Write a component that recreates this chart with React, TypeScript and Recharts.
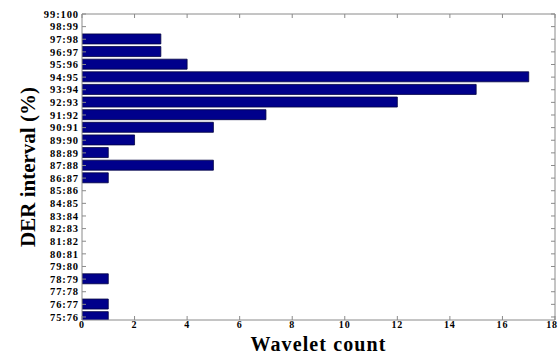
import React from 'react';
import { BarChart, Bar, XAxis, YAxis, Label } from 'recharts';

const intervals = [
  '75:76', '76:77', '77:78', '78:79', '79:80', '80:81', '81:82', '82:83', '83:84',
  '84:85', '85:86', '86:87', '87:88', '88:89', '89:90', '90:91', '91:92', '92:93',
  '93:94', '94:95', '95:96', '96:97', '97:98', '98:99', '99:100',
];
const counts = [1, 1, 0, 1, 0, 0, 0, 0, 0, 0, 0, 1, 5, 1, 2, 5, 7, 12, 15, 17, 4, 3, 3, 0, 0];
const xTicks = [0, 2, 4, 6, 8, 10, 12, 14, 16, 18];

const data = intervals.map((label, i) => ({ idx: i, label, count: counts[i] }));
const yTicks = intervals.map((_, i) => i);

const font = '"Liberation Serif", "Times New Roman", serif';
const tickStyle = { fill: '#000', fontSize: 10.5, fontWeight: 700, fontFamily: font, letterSpacing: 0.9 };
const xTickStyle = { ...tickStyle, fontSize: 10 };
const axisColor = '#8a8a8a';

const App: React.FC = () => {
  return (
    <div style={{ position: 'absolute', left: 0, top: 0, width: 558, height: 354, background: '#fff' }}>
      <BarChart
        width={558}
        height={354}
        data={data}
        layout="vertical"
        margin={{ top: 13, right: 2, left: 22, bottom: 0 }}
      >
        <XAxis
          type="number"
          domain={[0, 18]}
          ticks={xTicks}
          allowDataOverflow
          height={34}
          tickSize={-4}
          tickMargin={5}
          stroke={axisColor}
          tick={xTickStyle}
        >
          <Label
            value="Wavelet count"
            position="insideBottom"
            offset={3}
            style={{ fill: '#000', fontSize: 20, fontWeight: 700, fontFamily: font, letterSpacing: 1.1 }}
          />
        </XAxis>
        <XAxis
          xAxisId="top"
          orientation="top"
          type="number"
          domain={[0, 18]}
          ticks={xTicks}
          allowDataOverflow
          height={1}
          tickSize={-4}
          stroke={axisColor}
          tickFormatter={() => ''}
        />
        <YAxis
          type="number"
          dataKey="idx"
          domain={[-0.24, 24]}
          ticks={yTicks}
          allowDataOverflow
          reversed
          interval={0}
          width={60}
          tickSize={-4}
          tickMargin={7}
          stroke={axisColor}
          tick={tickStyle}
          tickFormatter={(v: number) => intervals[v] ?? ''}
        >
          <Label
            value="DER interval (%)"
            angle={-90}
            position="insideLeft"
            offset={6}
            style={{ fill: '#000', fontSize: 21, fontWeight: 700, fontFamily: font, textAnchor: 'middle' }}
          />
        </YAxis>
        <YAxis
          yAxisId="right"
          orientation="right"
          type="number"
          dataKey="idx"
          domain={[-0.24, 24]}
          ticks={yTicks}
          allowDataOverflow
          reversed
          interval={0}
          width={1}
          tickSize={-4}
          stroke={axisColor}
          tickFormatter={() => ''}
        />
        <Bar
          dataKey="count"
          fill="#00008b"
          stroke="#000040"
          strokeWidth={0.8}
          barSize={10}
          isAnimationActive={false}
        />
        {/* transparent copy so the top/right frame axes get drawn */}
        <Bar
          dataKey="count"
          xAxisId="top"
          yAxisId="right"
          fill="none"
          stroke="none"
          barSize={10}
          isAnimationActive={false}
        />
      </BarChart>
    </div>
  );
};

export default App;
